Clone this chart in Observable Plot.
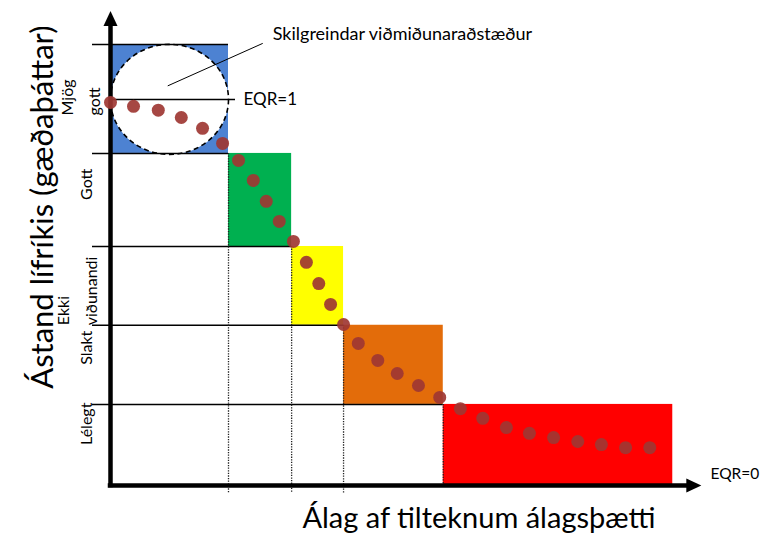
<!DOCTYPE html>
<html>
<head>
<meta charset="utf-8">
<script src="https://cdn.jsdelivr.net/npm/d3@7"></script>
<script src="https://cdn.jsdelivr.net/npm/@observablehq/plot@0.6"></script>
<style>
  html, body { margin: 0; padding: 0; background: #ffffff; }
  #chart svg { display: block; }
</style>
</head>
<body>
<div id="chart"></div>
<script>
// ---- Data ----
// Ecological status classes (top to bottom)
const classNames = ["Mjög gott", "Gott", "Ekki viðunandi", "Slakt", "Lélegt"];
const classLabels = ["Mjög\ngott", "Gott", "Ekki\nviðunandi", "Slakt", "Lélegt"];
// EQR bounds of each class (EQR = 1 at reference conditions, 0 at the x axis)
const classTop    = [1.142, 0.860, 0.619, 0.415, 0.210];
const classBottom = [0.860, 0.619, 0.415, 0.210, 0.000];
// Pressure range (0–100) in which each class lies
const classLeft   = [0.0, 20.0, 30.7, 39.5, 56.4];
const classRight  = [20.0, 30.7, 39.5, 56.4, 95.3];
const classColors = ["#4d82d2", "#00b050", "#ffff00", "#e36c0a", "#ff0000"];

// Response curve points: pressure vs EQR
const pointPressure = [0, 3.9, 8.1, 12.0, 15.6, 19.0,
  21.7, 24.2, 26.4, 28.6, 31.0,
  33.2, 35.3, 37.3, 39.5,
  42.0, 45.3, 48.6, 52.2, 55.8,
  59.3, 63.1, 67.1, 71.0, 75.1, 79.2, 83.2, 87.3, 91.4];
const pointEQR = [0.992, 0.982, 0.972, 0.953, 0.925, 0.886,
  0.842, 0.790, 0.736, 0.684, 0.632,
  0.578, 0.523, 0.469, 0.417,
  0.368, 0.324, 0.290, 0.259, 0.228,
  0.199, 0.174, 0.150, 0.135, 0.124, 0.114, 0.106, 0.098, 0.098];

// Axis extents and annotation
const axisEndX = 97.6;   // pressure at the base of the x arrowhead
const axisEndY = 1.19;   // EQR at the base of the y arrowhead
const refEQR = 1;
const annotation = {label: "Skilgreindar viðmiðunaraðstæður", x1: 9.7, y1: 1.035, x2: 25.8, y2: 1.145};
const yTitle = "Ástand lífríkis (gæðaþáttar)";
const xTitle = "Álag af tilteknum álagsþætti";
const eqr1Label = "EQR=1";
const eqr0Label = "EQR=0";

// ---- Derived tables ----
const classes = classNames.map((name, i) => ({
  name, label: classLabels[i], top: classTop[i], bottom: classBottom[i],
  left: classLeft[i], right: classRight[i], color: classColors[i],
  mid: (classTop[i] + classBottom[i]) / 2
}));
const points = pointPressure.map((x, i) => ({x, y: pointEQR[i]}));

// Boundary lines: each level runs from the axis to the step where it is crossed
const boundaryLines = [
  {y: classes[0].top, x2: classes[0].right},
  ...classes.map(c => ({y: c.bottom, x2: c.right})).filter(d => d.y > 0)
];
// Dotted verticals at each step
const steps = classes.slice(1).map(c => ({x: c.left, top: c.top}));

// Custom symbols
const arrowHead = {
  draw(ctx) { ctx.moveTo(0, -15); ctx.lineTo(7, 0); ctx.lineTo(-7, 0); ctx.closePath(); }
};
const ellipseSym = {
  draw(ctx) {
    const rx = 59, ry = 55, k = 0.5523;
    ctx.moveTo(rx, 0);
    ctx.bezierCurveTo(rx, ry * k, rx * k, ry, 0, ry);
    ctx.bezierCurveTo(-rx * k, ry, -rx, ry * k, -rx, 0);
    ctx.bezierCurveTo(-rx, -ry * k, -rx * k, -ry, 0, -ry);
    ctx.bezierCurveTo(rx * k, -ry, rx, -ry * k, rx, 0);
    ctx.closePath();
  }
};

const font = "Lato, 'Open Sans', sans-serif";

const chart = Plot.plot({
  width: 762,
  height: 550,
  marginLeft: 110,
  marginRight: 62,
  marginTop: 12,
  marginBottom: 65,
  x: {domain: [0, 100], axis: null},
  y: {domain: [0, 1.225], axis: null},
  style: {fontFamily: font, background: "#ffffff", color: "#000"},
  marks: [
    // class rectangles
    Plot.rect(classes, {x1: "left", x2: "right", y1: "bottom", y2: "top", fill: "color"}),
    // reference-condition ellipse
    Plot.dot([{x: classes[0].right / 2, y: refEQR}], {
      x: "x", y: "y", symbol: ellipseSym, r: 10,
      fill: "#ffffff", stroke: "#000", strokeWidth: 1.6, strokeDasharray: "5,3.5"
    }),
    // horizontal class boundaries (extended left of the axis as ticks)
    Plot.ruleY(boundaryLines, {y: "y", x1: 0, x2: "x2", insetLeft: -18, stroke: "#000", strokeWidth: 1.5}),
    // dotted step verticals
    Plot.ruleX(steps.slice(0, 3), {x: "x", y1: "top", y2: 0, insetBottom: -8, stroke: "#222", strokeWidth: 1.3, strokeDasharray: "1.3,1.3"}),
    Plot.ruleX(steps.slice(3), {x: "x", y1: "top", y2: 0, stroke: "#222", strokeWidth: 1.3, strokeDasharray: "1.3,1.3"}),
    // EQR = 1 line
    Plot.ruleY([refEQR], {x1: 0, x2: classes[0].right, insetRight: -7, stroke: "#000", strokeWidth: 1.5}),
    Plot.text([eqr1Label], {x: classes[0].right, y: refEQR, text: d => d, dx: 15, textAnchor: "start", fontSize: 17, fill: "#000"}),
    // annotation leader
    Plot.link([annotation], {x1: "x1", y1: "y1", x2: "x2", y2: "y2", stroke: "#000", strokeWidth: 1}),
    Plot.text([annotation], {x: "x2", y: "y2", text: "label", dx: 10, dy: -9, textAnchor: "start", fontSize: 18, fill: "#000"}),
    // axes with arrowheads
    Plot.ruleX([0], {y1: 0, y2: axisEndY, stroke: "#000", strokeWidth: 4.5, strokeLinecap: "square"}),
    Plot.ruleY([0], {x1: 0, x2: axisEndX, stroke: "#000", strokeWidth: 4.5, strokeLinecap: "square"}),
    Plot.dot([{x: 0, y: axisEndY}], {x: "x", y: "y", symbol: arrowHead, r: 5, fill: "#000", stroke: "none"}),
    Plot.dot([{x: axisEndX, y: 0}], {x: "x", y: "y", symbol: arrowHead, r: 5, rotate: 90, fill: "#000", stroke: "none"}),
    Plot.text([eqr0Label], {frameAnchor: "bottom-right", text: d => d, dx: 10, dy: -7, textAnchor: "start", fontSize: 15.5, fill: "#000"}),
    // response curve points
    Plot.dot(points, {x: "x", y: "y", r: 6.5, fill: "#9e3733", fillOpacity: 0.92, stroke: "none"}),
    // class labels
    Plot.text(classes.filter(c => !c.label.includes("\n")), {
      y: "mid", frameAnchor: "left", text: "label", rotate: -90, dx: -24, fontSize: 16, fill: "#000"
    }),
    Plot.text(classes.filter(c => c.name === "Mjög gott"), {
      y: () => refEQR, frameAnchor: "left", text: "label", rotate: -90, dx: -33, dy: 16, textAnchor: "start", lineHeight: 1.7, fontSize: 16, fill: "#000"
    }),
    Plot.text(classes.filter(c => c.name === "Ekki viðunandi"), {
      y: "bottom", frameAnchor: "left", text: "label", rotate: -90, dx: -36, textAnchor: "start", lineHeight: 1.75, fontSize: 16, fill: "#000"
    }),
    // axis titles
    Plot.text([yTitle], {frameAnchor: "top-left", text: d => d, rotate: -90, dx: -80, dy: 13, textAnchor: "end", fontSize: 31, fill: "#000"}),
    Plot.text([xTitle], {frameAnchor: "bottom-right", text: d => d, dx: -45, dy: 42, textAnchor: "end", fontSize: 29, fill: "#000"})
  ]
});

document.getElementById("chart").appendChild(chart);
</script>
</body>
</html>
